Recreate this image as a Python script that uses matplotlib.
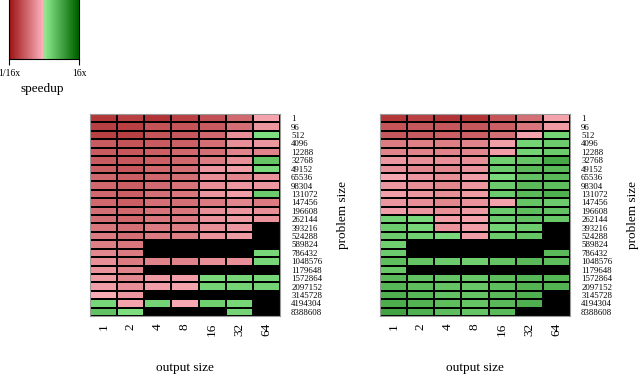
import numpy as np
import matplotlib
matplotlib.use("Agg")
import matplotlib.pyplot as plt
from matplotlib.colors import ListedColormap, Normalize, to_rgb

plt.rcParams['font.family'] = ['Liberation Serif', 'DejaVu Serif']

output_sizes = ['1', '2', '4', '8', '16', '32', '64']
problem_sizes = ['1', '96', '512', '4096', '12288', '32768', '49152', '65536',
                 '98304', '131072', '147456', '196608', '262144', '393216',
                 '524288', '589824', '786432', '1048576', '1179648', '1572864',
                 '2097152', '3145728', '4194304', '8388608']

nan = np.nan
left_log2_speedup = [
    [-3.2, -3.0, -3.3, -3.0, -2.6, -2.0, -0.5],
    [-3.0, -3.0, -2.5, -2.5, -2.3, -1.8, -0.8],
    [-3.0, -3.0, -2.5, -2.4, -2.0, -1.0, 0.5],
    [-2.3, -2.5, -2.3, -2.2, -1.8, -1.0, -0.8],
    [-2.3, -2.4, -2.2, -2.0, -1.8, -1.3, -1.3],
    [-2.3, -2.4, -2.2, -2.0, -1.5, -1.0, 1.2],
    [-2.2, -2.4, -2.0, -1.8, -0.8, -0.6, 0.6],
    [-2.0, -2.2, -2.0, -1.8, -1.0, -1.2, -0.9],
    [-2.0, -2.2, -1.9, -1.7, -1.0, -0.8, -0.8],
    [-2.0, -2.2, -1.8, -1.6, -0.8, -0.6, 1.0],
    [-2.0, -2.2, -1.8, -1.8, -1.5, -1.2, -1.5],
    [-1.8, -2.0, -1.7, -1.6, -1.0, -0.8, -1.0],
    [-1.8, -2.0, -1.6, -1.5, -0.9, -0.7, -0.9],
    [-1.6, -1.8, -1.5, -1.4, -1.0, -0.8, nan],
    [-1.5, -1.8, -1.5, -1.4, -0.9, -0.7, nan],
    [-1.4, -1.6, nan, nan, nan, nan, nan],
    [-1.2, -1.5, nan, nan, nan, nan, 0.7],
    [-1.0, -1.5, -1.3, -1.3, -1.0, -1.0, 0.7],
    [-0.9, -1.3, nan, nan, nan, nan, nan],
    [-0.7, -1.2, -0.7, -0.6, 0.6, 0.7, 0.7],
    [-0.6, -1.0, -0.6, -0.5, 0.8, 0.8, 0.8],
    [-0.3, -0.8, nan, nan, nan, nan, nan],
    [0.7, -0.5, 0.8, -0.4, 0.9, 0.7, nan],
    [1.3, 0.5, nan, nan, nan, 0.8, nan],
]
right_log2_speedup = [
    [-3.2, -3.0, -3.3, -3.3, -2.5, -1.8, -0.5],
    [-2.5, -2.4, -2.4, -2.4, -2.2, -1.6, -0.7],
    [-2.4, -2.3, -2.2, -2.2, -1.8, -0.5, 0.8],
    [-1.5, -1.4, -1.4, -1.3, -0.6, 0.8, 1.0],
    [-1.3, -1.3, -1.3, -1.2, -0.6, 0.8, 1.0],
    [-0.8, -1.0, -1.0, -1.0, 0.9, 1.2, 2.0],
    [-1.0, -1.2, -1.2, -0.9, 1.0, 1.5, 1.5],
    [-0.4, -0.8, -1.0, -0.6, 0.6, 1.3, 1.5],
    [-0.8, -1.0, -1.2, -0.8, 1.0, 1.5, 1.4],
    [-0.6, -0.8, -1.0, -0.7, 1.0, 1.5, 1.8],
    [-0.8, -1.0, -1.2, -0.9, -0.5, 1.2, 1.0],
    [-0.6, -0.8, -1.0, -0.7, 1.0, 1.4, 1.3],
    [0.8, 0.6, -0.6, -0.5, 1.0, 1.3, 1.1],
    [1.0, 0.7, -0.9, -0.6, 0.8, 1.0, nan],
    [1.0, 0.9, 0.6, -0.6, 1.0, 1.2, nan],
    [0.9, nan, nan, nan, nan, nan, nan],
    [1.0, nan, nan, nan, nan, nan, 1.5],
    [1.4, 1.2, 1.0, 0.9, 1.2, 1.5, 1.4],
    [1.1, nan, nan, nan, nan, nan, nan],
    [1.5, 1.3, 1.2, 1.1, 1.4, 1.6, 1.6],
    [1.6, 1.4, 1.2, 1.1, 1.4, 1.7, 1.7],
    [1.8, 1.6, 1.3, 1.2, 1.5, 1.8, nan],
    [1.9, 1.7, 1.4, 1.2, 1.5, 1.8, nan],
    [2.2, 1.8, 1.4, 1.2, 1.5, nan, nan],
]

# red half: dark red -> pink, green half: light green -> dark green
n = 128
red_lo, red_hi = np.array(to_rgb('#a01818')), np.array(to_rgb('#ffb6c1'))
grn_lo, grn_hi = np.array(to_rgb('#90ee90')), np.array(to_rgb('#006400'))
t = np.linspace(0, 1, n)[:, None]
colors = np.vstack([red_lo + (red_hi - red_lo) * t, grn_lo + (grn_hi - grn_lo) * t])
cmap = ListedColormap(colors)
norm = Normalize(-4, 4)

fig = plt.figure(figsize=(6.4, 3.74), dpi=100)
W, H = 640, 374

def add_ax(x0, y0, x1, y1):
    return fig.add_axes([x0 / W, 1 - y1 / H, (x1 - x0) / W, (y1 - y0) / H])

# colour key
cax = add_ax(9, -2, 79, 59)
steps = np.linspace(-4, 4, 24)
cax.imshow(steps[None, :], cmap=cmap, norm=norm, aspect='auto',
           extent=[-4, 4, 0, 1])
cax.set_xlim(-4, 4)
cax.set_yticks([])
cax.set_xticks([-4, 4])
cax.set_xticklabels(['1/16x', '16x'], fontsize=7)
cax.tick_params(axis='x', length=4.5, width=0.8, pad=3)
fig.text(42 / W, 1 - 89 / H, 'speedup', ha='center', va='center', fontsize=9.5)

def panel(data, x0, x1):
    ax = add_ax(x0, 114, x1, 316)
    ax.set_facecolor('black')
    arr = np.ma.masked_invalid(np.array(data, dtype=float))
    ax.pcolormesh(arr, cmap=cmap, norm=norm, edgecolors='black', linewidth=1.3)
    ax.set_xlim(0, len(output_sizes))
    ax.set_ylim(len(problem_sizes), 0)
    ax.set_xticks(np.arange(len(output_sizes)) + 0.5)
    ax.set_xticklabels(output_sizes, rotation=90, fontsize=9.5)
    ax.set_yticks(np.arange(len(problem_sizes)) + 0.5)
    ax.set_yticklabels(problem_sizes, fontsize=6.3)
    ax.yaxis.tick_right()
    ax.tick_params(axis='both', length=0)
    ax.tick_params(axis='y', pad=8)
    ax.tick_params(axis='x', pad=5)
    for s in ax.spines.values():
        s.set_color('#999999')
        s.set_linewidth(0.8)
    cx = (x0 + x1) / 2
    fig.text(cx / W, 1 - 368 / H, 'output size', ha='center', va='center', fontsize=9.5)
    fig.text((x1 + 63) / W, 1 - 215 / H, 'problem size', ha='center', va='center',
             rotation=90, fontsize=9.5)
    return ax

panel(left_log2_speedup, 90, 280)
panel(right_log2_speedup, 380, 570)

fig.savefig('out.png', dpi=100)
